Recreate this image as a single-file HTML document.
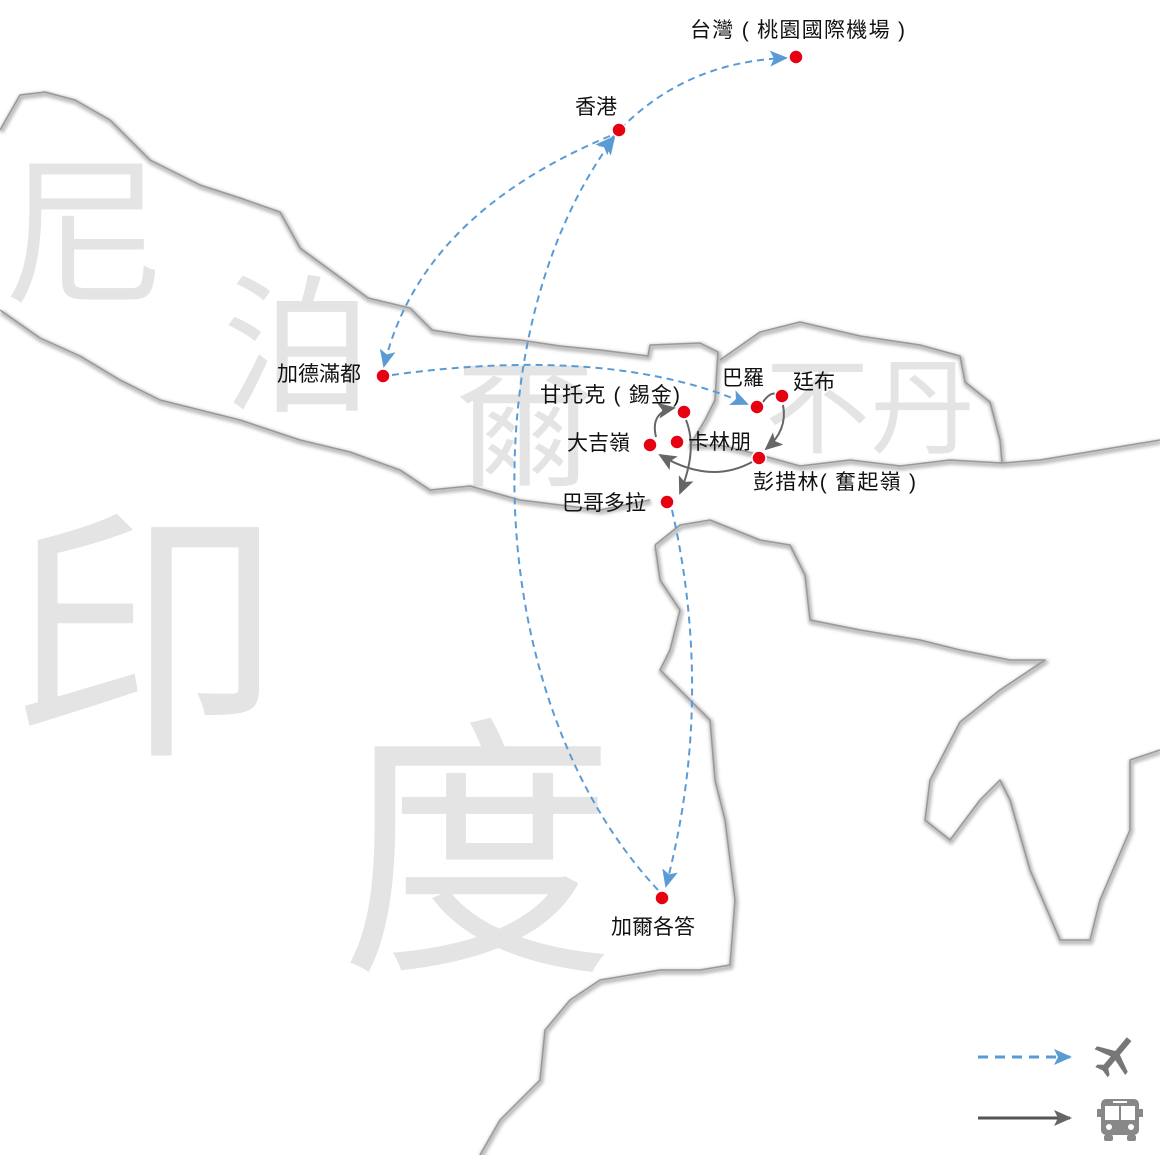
<!DOCTYPE html>
<html><head><meta charset="utf-8"><style>
html,body{margin:0;padding:0;background:#fff;}
svg{display:block;}
text{font-family:"Liberation Sans","Noto Sans CJK TC",sans-serif;}
</style></head><body>
<svg width="1160" height="1155" viewBox="0 0 1160 1155" xmlns="http://www.w3.org/2000/svg">
<defs>
<marker id="abL" markerWidth="18" markerHeight="16" refX="16" refY="8" orient="auto" markerUnits="userSpaceOnUse"><path d="M0,0 L18,8 L0,16 L4,8 Z" fill="#5b9bd5"/></marker>
<marker id="ag" markerWidth="18" markerHeight="16" refX="16" refY="8" orient="auto" markerUnits="userSpaceOnUse"><path d="M0,0 L18,8 L0,16 L4,8 Z" fill="#666"/></marker>
<filter id="sh"><feGaussianBlur stdDeviation="1.5"/></filter>
</defs>

<g fill="#e4e4e4">
<text x="5" y="290" font-size="160">尼</text>
<text x="222" y="400" font-size="150">泊</text>
<text x="455" y="475" font-size="140">爾</text>
<text x="765" y="445" font-size="105">不丹</text>
<text x="10" y="735" font-size="270">印</text>
<text x="340" y="950" font-size="275">度</text>
</g>

<g fill="none" stroke-linejoin="round">
<g stroke="#bbb" stroke-width="5" filter="url(#sh)" transform="translate(1,2)">
<path d="M0,130 L20,95 L45,92 L75,100 L110,120 L150,160 L200,185 L240,198 L280,212 L300,248 L330,270 L368,298 L410,308 L432,330 L470,336 L520,340 L560,346 L600,350 L648,356 L650,345 L700,343 L718,352 L715,400 L705,420 L690,445 L720,445 L760,455 L800,466 L850,460 L900,466 L950,460 L1002,463 L1040,460 L1100,450 L1160,440"/>
<path d="M0,310 L40,338 L80,356 L120,380 L160,400 L200,410 L240,420 L300,440 L350,452 L400,470 L430,490 L470,486 L520,500 L560,505 L600,510 L650,500"/>
<path d="M720,360 L760,332 L800,322 L860,336 L920,345 L960,356 L965,382 L990,402 L1000,440 L1002,463"/>
<path d="M655,545 L680,525 L710,520 L760,540 L790,545 L805,575 L810,620 L860,630 L920,640 L960,650 L1010,660 L1045,660 L1000,690 L960,722 L930,780 L925,820 L950,840 L980,800 L1000,780 L1010,800 L1030,870 L1060,940 L1090,940 L1100,900 L1130,830 L1130,760 L1160,750"/>
<path d="M655,545 L660,580 L680,610 L670,650 L660,670 L690,700 L710,720 L715,780 L725,820 L735,900 L730,965 L700,970 L660,970 L600,980 L570,1000 L545,1030 L540,1080 L500,1120 L480,1155"/>
</g>
<g stroke="#999" stroke-width="1.5">
<path d="M0,130 L20,95 L45,92 L75,100 L110,120 L150,160 L200,185 L240,198 L280,212 L300,248 L330,270 L368,298 L410,308 L432,330 L470,336 L520,340 L560,346 L600,350 L648,356 L650,345 L700,343 L718,352 L715,400 L705,420 L690,445 L720,445 L760,455 L800,466 L850,460 L900,466 L950,460 L1002,463 L1040,460 L1100,450 L1160,440"/>
<path d="M0,310 L40,338 L80,356 L120,380 L160,400 L200,410 L240,420 L300,440 L350,452 L400,470 L430,490 L470,486 L520,500 L560,505 L600,510 L650,500"/>
<path d="M720,360 L760,332 L800,322 L860,336 L920,345 L960,356 L965,382 L990,402 L1000,440 L1002,463"/>
<path d="M655,545 L680,525 L710,520 L760,540 L790,545 L805,575 L810,620 L860,630 L920,640 L960,650 L1010,660 L1045,660 L1000,690 L960,722 L930,780 L925,820 L950,840 L980,800 L1000,780 L1010,800 L1030,870 L1060,940 L1090,940 L1100,900 L1130,830 L1130,760 L1160,750"/>
<path d="M655,545 L660,580 L680,610 L670,650 L660,670 L690,700 L710,720 L715,780 L725,820 L735,900 L730,965 L700,970 L660,970 L600,980 L570,1000 L545,1030 L540,1080 L500,1120 L480,1155"/>
</g>
</g>

<g fill="none" stroke="#5b9bd5" stroke-width="2" stroke-dasharray="7,5">
<path d="M612,138 Q680,62 786,58" marker-end="url(#abL)" marker-start="url(#abL)"/>
<path d="M610,136 Q420,215 384,366" marker-end="url(#abL)"/>
<path d="M392,375 Q610,345 747,404" marker-end="url(#abL)"/>
<path d="M658,890 C480,700 470,330 614,138" marker-end="url(#abL)"/>
<path d="M672,510 Q715,700 666,886" marker-end="url(#abL)"/>
</g>
<g fill="none" stroke="#666" stroke-width="2">
<path d="M763,402 Q770,392 776,394"/>
<path d="M783,405 Q788,430 766,449" marker-end="url(#ag)"/>
<path d="M752,462 Q710,485 660,455" marker-end="url(#ag)"/>
<path d="M656,437 Q650,412 674,408" marker-end="url(#ag)"/>
<path d="M686,420 Q698,450 680,493" marker-end="url(#ag)"/>
</g>

<g fill="#e60012" stroke="#fff" stroke-width="1.5">
<circle cx="796" cy="57" r="7"/><circle cx="619" cy="130" r="7"/><circle cx="383" cy="376" r="7"/>
<circle cx="757" cy="407" r="7"/><circle cx="782" cy="396" r="7"/><circle cx="684" cy="412" r="7"/>
<circle cx="650" cy="445" r="7"/><circle cx="677" cy="442" r="7"/><circle cx="759" cy="458" r="7"/>
<circle cx="667" cy="502" r="7"/><circle cx="662" cy="898" r="7"/>
</g>

<g font-size="21" fill="#111">
<text x="690" y="37" textLength="215">台灣 ( 桃園國際機場 )</text>
<text x="575" y="114">香港</text>
<text x="277" y="381">加德滿都</text>
<text x="722" y="385">巴羅</text>
<text x="793" y="389">廷布</text>
<text x="540" y="402" textLength="140">甘托克 ( 錫金)</text>
<text x="567" y="450">大吉嶺</text>
<text x="688" y="449">卡林朋</text>
<text x="753" y="489" textLength="163">彭措林( 奮起嶺 )</text>
<text x="562" y="510">巴哥多拉</text>
<text x="611" y="934">加爾各答</text>
</g>

<line x1="978" y1="1057" x2="1070" y2="1057" stroke="#5b9bd5" stroke-width="3" stroke-dasharray="10,7" marker-end="url(#abL)"/>
<line x1="978" y1="1118" x2="1070" y2="1118" stroke="#555" stroke-width="3" marker-end="url(#ag)"/>
<g fill="#777" transform="translate(1115,1056) rotate(40)">
<path d="M-3,-22 L3,-22 L3,-4 L20,4 L20,8 L3,3 L3,14 L8,18 L8,21 L0,19 L-8,21 L-8,18 L-3,14 L-3,3 L-20,8 L-20,4 L-3,-4 Z"/>
</g>
<g fill="#888">
<rect x="1101" y="1099" width="38" height="36" rx="5"/>
<rect x="1097" y="1109" width="4" height="8"/><rect x="1139" y="1109" width="4" height="8"/>
<rect x="1104" y="1135" width="9" height="6" rx="2"/><rect x="1127" y="1135" width="9" height="6" rx="2"/>
<rect x="1105" y="1106" width="14" height="14" fill="#fff"/><rect x="1121" y="1106" width="14" height="14" fill="#fff"/>
<rect x="1113" y="1101" width="14" height="2" fill="#fff"/>
<circle cx="1109" cy="1127" r="3" fill="#fff"/><circle cx="1131" cy="1127" r="3" fill="#fff"/>
</g>
</svg>
</body></html>
